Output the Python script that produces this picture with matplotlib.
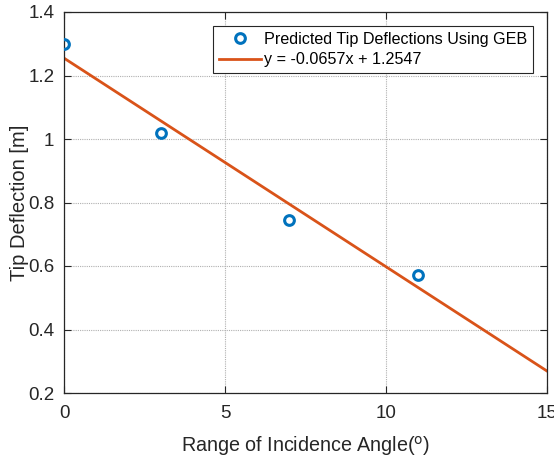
import numpy as np
import matplotlib.pyplot as plt
from matplotlib.ticker import FuncFormatter

# incidence angle [deg] and predicted tip deflection [m]
angle = [0, 3, 7, 11]
deflection = [1.30, 1.02, 0.745, 0.573]

# linear fit coefficients
slope = -0.0657
intercept = 1.2547

plt.rcParams['font.family'] = ['Liberation Sans', 'DejaVu Sans']

fig = plt.figure(figsize=(5.54, 4.57), dpi=100)
ax = fig.add_axes([64/554, 1-393/457, (547-64)/554, (393-12)/457])

xfit = np.linspace(0, 15, 100)
ax.plot(angle, deflection, 'o', ms=7, mfc='none', mec='#0072BD', mew=2.2,
        label='Predicted Tip Deflections Using GEB', zorder=3)
ax.plot(xfit, slope*xfit + intercept, '-', color='#D95319', lw=2,
        label=f'y = {slope}x + {intercept}')

ax.set_xlim(0, 15)
ax.set_ylim(0.2, 1.4)
ax.set_xticks([0, 5, 10, 15])
ax.set_yticks([0.2, 0.4, 0.6, 0.8, 1.0, 1.2, 1.4])
ax.yaxis.set_major_formatter(FuncFormatter(lambda v, p: f'{v:g}'))
ax.grid(True, color='#b0b0b0', ls=(0, (1, 1)), lw=0.8)
ax.tick_params(direction='in', top=True, right=True, labelsize=13.5,
               colors='#262626', length=5, width=0.8, pad=7)
ax.tick_params(axis='x', pad=9)
for s in ax.spines.values():
    s.set_color('#262626')
    s.set_linewidth(0.9)

ax.set_xlabel('Range of Incidence Angle($^{\\rm o}$)', fontsize=14.2, color='#262626', labelpad=8)
ax.set_ylabel('Tip Deflection [m]', fontsize=14.5, color='#262626', labelpad=-1)

leg = ax.legend(loc='upper right', bbox_to_anchor=(533/554, 1-26/457),
                bbox_transform=fig.transFigure, fontsize=11.6, fancybox=False,
                framealpha=1, edgecolor='#262626', borderpad=0.35,
                handlelength=2.6, handletextpad=0.2, labelspacing=0.35,
                borderaxespad=0)
leg.get_frame().set_linewidth(0.8)

fig.savefig('out.png', dpi=100)
